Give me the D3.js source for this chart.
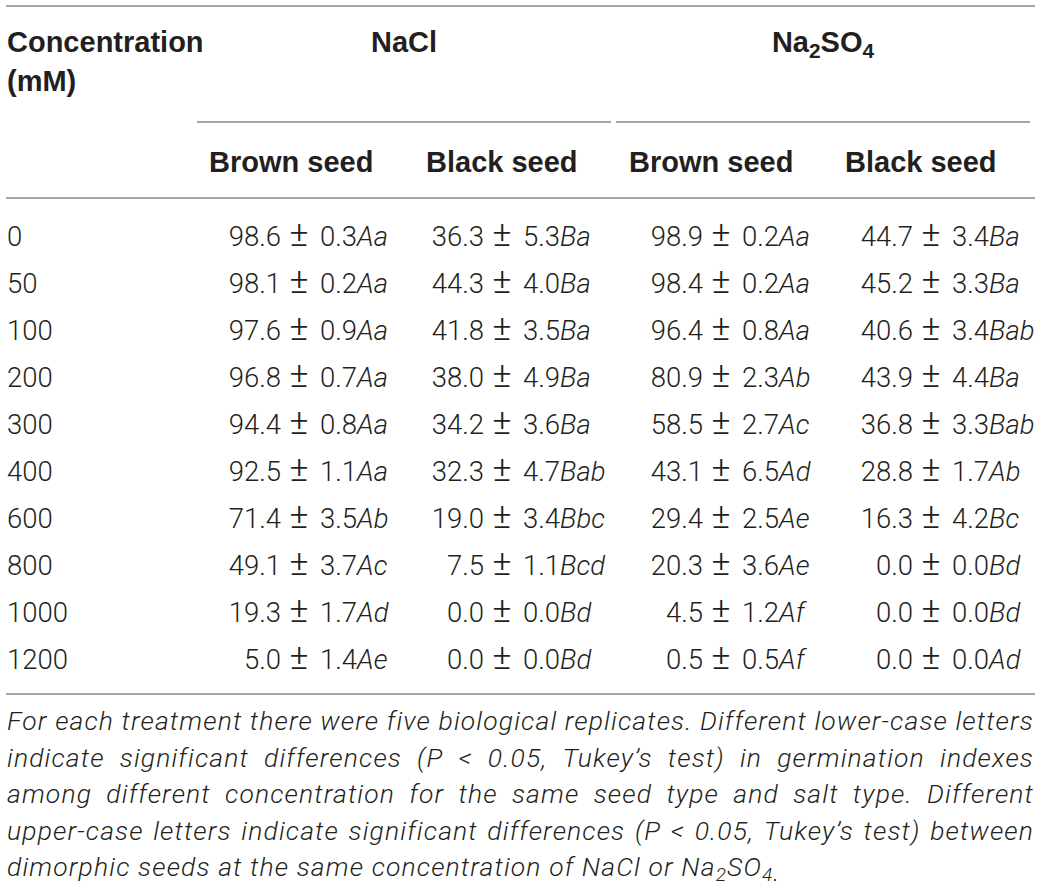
<!DOCTYPE html>
<meta charset="utf-8">
<script src="https://d3js.org/d3.v7.min.js"></script>
<style>
  body { margin: 0; background: #fff; }
</style>
<div id="table"></div>
<script>

// table values
var concentrations = ["0", "50", "100", "200", "300", "400", "600", "800", "1000", "1200"];
var salts = ["NaCl", "Na2SO4"];
var seeds = ["Brown seed", "Black seed"];

var naclBrownMean    = [98.6, 98.1, 97.6, 96.8, 94.4, 92.5, 71.4, 49.1, 19.3, 5.0];
var naclBrownSE      = [0.3, 0.2, 0.9, 0.7, 0.8, 1.1, 3.5, 3.7, 1.7, 1.4];
var naclBrownLetters = ["Aa", "Aa", "Aa", "Aa", "Aa", "Aa", "Ab", "Ac", "Ad", "Ae"];

var naclBlackMean    = [36.3, 44.3, 41.8, 38.0, 34.2, 32.3, 19.0, 7.5, 0.0, 0.0];
var naclBlackSE      = [5.3, 4.0, 3.5, 4.9, 3.6, 4.7, 3.4, 1.1, 0.0, 0.0];
var naclBlackLetters = ["Ba", "Ba", "Ba", "Ba", "Ba", "Bab", "Bbc", "Bcd", "Bd", "Bd"];

var sulfBrownMean    = [98.9, 98.4, 96.4, 80.9, 58.5, 43.1, 29.4, 20.3, 4.5, 0.5];
var sulfBrownSE      = [0.2, 0.2, 0.8, 2.3, 2.7, 6.5, 2.5, 3.6, 1.2, 0.5];
var sulfBrownLetters = ["Aa", "Aa", "Aa", "Ab", "Ac", "Ad", "Ae", "Ae", "Af", "Af"];

var sulfBlackMean    = [44.7, 45.2, 40.6, 43.9, 36.8, 28.8, 16.3, 0.0, 0.0, 0.0];
var sulfBlackSE      = [3.4, 3.3, 3.4, 4.4, 3.3, 1.7, 4.2, 0.0, 0.0, 0.0];
var sulfBlackLetters = ["Ba", "Ba", "Bab", "Ba", "Bab", "Ab", "Bc", "Bd", "Bd", "Ad"];

var footnoteLines = [
  "For each treatment there were five biological replicates. Different lower-case letters",
  "indicate significant differences (P < 0.05, Tukey\u2019s test) in germination indexes",
  "among different concentration for the same seed type and salt type. Different",
  "upper-case letters indicate significant differences (P < 0.05, Tukey\u2019s test) between",
  "dimorphic seeds at the same concentration of NaCl or Na2SO4."
];

var columns = [
  {salt: "NaCl",   seed: "Brown seed", mean: naclBrownMean, se: naclBrownSE, letters: naclBrownLetters},
  {salt: "NaCl",   seed: "Black seed", mean: naclBlackMean, se: naclBlackSE, letters: naclBlackLetters},
  {salt: "Na2SO4", seed: "Brown seed", mean: sulfBrownMean, se: sulfBrownSE, letters: sulfBrownLetters},
  {salt: "Na2SO4", seed: "Black seed", mean: sulfBlackMean, se: sulfBlackSE, letters: sulfBlackLetters}
];
columns.forEach(function(c) { c.key = c.salt + "|" + c.seed; });

var width = 1047, height = 893;
var ink = "#231f20", rule = "#a5a5a5";
var boldFont = "'Liberation Sans', Arial, Helvetica, sans-serif";
var lightFont = "Roboto, 'Open Sans', sans-serif";
var bodySize = 27.5, headSize = 29, noteSize = 26.5;

var svg = d3.select("#table")
  .append("svg")
    .attr("width", width)
    .attr("height", height);

// scales
var y = d3.scalePoint().domain(concentrations).range([236, 659]);
var pmX = d3.scaleOrdinal().domain(columns.map(function(c) { return c.key; })).range([299, 502, 721, 931]);
var headX = d3.scaleOrdinal().domain(columns.map(function(c) { return c.key; })).range([209, 426, 629, 845]);
var saltSpan = d3.scaleOrdinal().domain(salts).range([[197, 611], [616, 1030]]);
var fmt = d3.format(".1f");

// write text with chemical subscripts
function rich(sel, str, size) {
  var parts = str.split(/(Na2SO4)/);
  var shift = Math.round(size * 0.2);
  parts.forEach(function(p) {
    if (p === "Na2SO4") {
      sel.append("tspan").text("Na");
      sel.append("tspan").attr("font-size", size * 0.72).attr("dy", shift).text("2");
      sel.append("tspan").attr("dy", -shift).text("SO");
      sel.append("tspan").attr("font-size", size * 0.72).attr("dy", shift).text("4");
      sel.append("tspan").attr("dy", -shift).text("");
    } else if (p.length) {
      sel.append("tspan").text(p);
    }
  });
  return sel;
}

// horizontal rules
function hline(x1, x2, yy) {
  svg.append("line")
    .attr("x1", x1).attr("x2", x2)
    .attr("y1", yy).attr("y2", yy)
    .attr("stroke", rule).attr("stroke-width", 2);
}
hline(6, 1035, 6);
salts.forEach(function(s) { hline(saltSpan(s)[0], saltSpan(s)[1], 122); });
hline(6, 1035, 198);
hline(6, 1035, 694);

// header
var head = svg.append("g")
  .attr("font-family", boldFont)
  .attr("font-weight", "bold")
  .attr("font-size", headSize)
  .attr("fill", ink);

head.append("text").attr("x", 7).attr("y", 52).text("Concentration");
head.append("text").attr("x", 7).attr("y", 91).text("(mM)");

salts.forEach(function(s) {
  var t = head.append("text")
    .attr("x", (saltSpan(s)[0] + saltSpan(s)[1]) / 2)
    .attr("y", 52)
    .attr("text-anchor", "middle");
  rich(t, s, headSize);
});

head.selectAll(".seed")
  .data(columns)
  .enter()
  .append("text")
    .attr("class", "seed")
    .attr("x", function(d) { return headX(d.key); })
    .attr("y", 172)
    .text(function(d) { return d.seed; });

// body
var body = svg.append("g")
  .attr("font-family", lightFont)
  .attr("font-weight", 300)
  .attr("font-size", bodySize)
  .attr("fill", ink);

var base = Math.round(bodySize * 0.36);

body.selectAll(".conc")
  .data(concentrations)
  .enter()
  .append("text")
    .attr("class", "conc")
    .attr("x", 7)
    .attr("y", function(d) { return y(d) + base; })
    .text(function(d) { return d; });

columns.forEach(function(c) {
  var cells = concentrations.map(function(k, i) {
    return {conc: k, mean: c.mean[i], se: c.se[i], letters: c.letters[i]};
  });
  var g = body.append("g");
  var px = pmX(c.key);

  g.selectAll(".mean")
    .data(cells)
    .enter()
    .append("text")
      .attr("x", px - 18)
      .attr("y", function(d) { return y(d.conc) + base; })
      .attr("text-anchor", "end")
      .text(function(d) { return fmt(d.mean); });

  g.selectAll(".pm")
    .data(cells)
    .enter()
    .append("text")
      .attr("x", px)
      .attr("y", function(d) { return y(d.conc) + base; })
      .attr("text-anchor", "middle")
      .attr("font-size", bodySize * 1.3)
      .text("\u00b1");

  var sd = g.selectAll(".sd")
    .data(cells)
    .enter()
    .append("text")
      .attr("x", px + 21)
      .attr("y", function(d) { return y(d.conc) + base; });
  sd.append("tspan").text(function(d) { return fmt(d.se); });
  sd.append("tspan").attr("font-style", "italic").text(function(d) { return d.letters; });
});

// footnote, justified
var note = svg.append("g")
  .attr("font-family", lightFont)
  .attr("font-weight", 300)
  .attr("font-style", "italic")
  .attr("font-size", noteSize)
  .attr("fill", ink);

var noteY = d3.scalePoint().domain(d3.range(footnoteLines.length)).range([730, 876]);
var left = 7, right = 1034;

// fit letter spacing so the first line sets naturally across the width
var probe = note.append("text").text(footnoteLines[0]);
var tracking = (right - left - probe.node().getComputedTextLength()) / footnoteLines[0].length;
tracking = Math.max(0, tracking);
note.attr("letter-spacing", tracking);
probe.text("a a");
var spaceW = probe.node().getComputedTextLength();
probe.text("aa");
spaceW -= probe.node().getComputedTextLength();
probe.remove();

footnoteLines.forEach(function(line, i) {
  var words = line.split(" ");
  var nodes = words.map(function(w) {
    var t = note.append("text").attr("y", noteY(i));
    rich(t, w, noteSize);
    return t;
  });
  var widths = nodes.map(function(t) { return t.node().getComputedTextLength(); });
  var total = d3.sum(widths);
  var last = i === footnoteLines.length - 1;
  var gap = last ? spaceW : (right - left - total) / (words.length - 1);
  var x = left;
  nodes.forEach(function(t, j) {
    t.attr("x", x);
    x += widths[j] + gap;
  });
});

</script>
